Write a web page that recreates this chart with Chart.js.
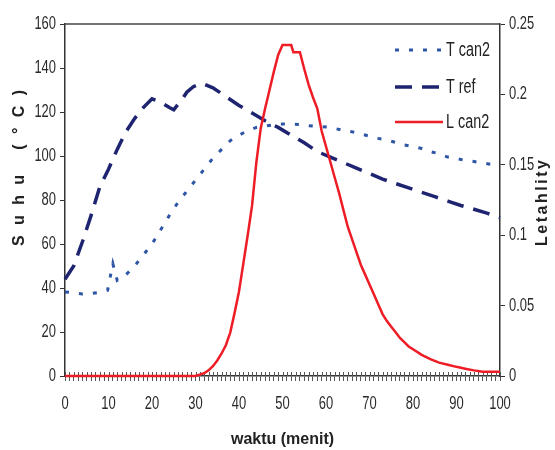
<!DOCTYPE html>
<html>
<head>
  <title>Suhu dan Letalitas</title>
  <script src="https://cdn.jsdelivr.net/npm/chart.js@4.4.1/dist/chart.umd.min.js"></script>
  <style>
body {
  margin: 0;
  background: #ffffff;
}
  </style>
</head>
<body>
<canvas id="chart" width="555" height="450"></canvas>
<script>
// values (time in minutes)
var tCan2Time = [0, 2, 4, 6, 8, 9.8, 11, 12, 14, 16, 18, 20, 22, 24, 26, 28, 30, 32, 34, 36, 38, 40, 42, 44, 46, 48, 50, 52, 54, 56, 58, 60, 62, 64, 66, 68, 70, 72, 74, 76, 78, 80, 82, 84, 86, 88, 90, 92, 94, 96, 98, 100];
var tCan2Values = [38.2, 37.8, 37.3, 37.5, 38, 39, 51, 43.5, 46, 50, 55, 60, 66.5, 73, 79, 84, 89, 94, 99, 103, 107, 109.5, 111.5, 113, 113.6, 114.2, 114.5, 114.5, 114.3, 113.8, 113.4, 113.2, 112.5, 111.7, 111, 110, 109, 108, 107.2, 106.2, 105, 104.3, 103.4, 102, 101, 99.5, 98.8, 98, 97.5, 96.8, 96.2, 96];

var tRefTime = [0, 2, 4, 6, 8, 10, 12, 14, 16, 18, 20, 22, 24, 25, 27, 28, 29.5, 31.5, 34, 37, 40, 43, 46, 49, 52, 55, 58, 61, 64, 67, 70, 73, 76, 79, 82, 85, 88, 91, 94, 97, 100];
var tRefValues = [44, 50, 61, 73, 86, 94, 103, 111, 117, 122, 126, 124.5, 122, 121, 126, 129, 131.5, 133, 131, 127, 123, 119.5, 116, 113, 109.5, 106, 102, 99.5, 97, 94.5, 92, 89.5, 87.5, 85.5, 83.5, 81.5, 79.5, 77.5, 75.8, 74, 72];

var lCan2Time = [0, 30, 31, 32, 33, 34, 35, 36, 37, 38, 39, 40, 41, 42, 43, 44, 45, 46, 47, 48, 49, 50, 51, 52, 52.5, 54, 55, 56, 57, 58, 59, 60, 61, 62, 63, 64, 65, 66, 67, 68, 69, 70, 71, 72, 73, 74, 75, 76, 77, 78, 79, 80, 82, 84, 86, 88, 90, 92, 94, 96, 98, 100];
var lCan2Values = [0, 0, 0.001, 0.002, 0.004, 0.007, 0.011, 0.016, 0.022, 0.031, 0.045, 0.06, 0.08, 0.1, 0.121, 0.152, 0.176, 0.19, 0.203, 0.216, 0.228, 0.235, 0.235, 0.235, 0.23, 0.23, 0.218, 0.207, 0.198, 0.19, 0.174, 0.163, 0.152, 0.141, 0.13, 0.118, 0.106, 0.097, 0.088, 0.079, 0.072, 0.065, 0.058, 0.051, 0.044, 0.039, 0.035, 0.031, 0.027, 0.024, 0.021, 0.019, 0.015, 0.012, 0.0095, 0.008, 0.0065, 0.0052, 0.004, 0.003, 0.003, 0.003];

var seriesNames = ['T can2', 'T ref', 'L can2'];
var xTitle = 'waktu (menit)';
var yTitle = 'Suhu (\u00B0C)';
var y1Title = 'Letahlity';

var plain = "'Liberation Sans', Arial, sans-serif";
var squeeze = 0.72; // the original labels are set in a very condensed face

function toPoints(xs, ys) {
  return xs.map(function(x, i) { return { x: x, y: ys[i] }; });
}

function spacedText(ctx, text, x, y, targetWidth) {
  ctx.letterSpacing = '0px';
  var w = ctx.measureText(text).width;
  var gap = Math.max(0, (targetWidth - w) / (text.length - 1));
  ctx.letterSpacing = gap + 'px';
  ctx.fillText(text, x + gap / 2, y);
  ctx.letterSpacing = '0px';
}

function narrowText(ctx, text, x, y) {
  ctx.save();
  ctx.translate(x, y);
  ctx.scale(squeeze, 1);
  ctx.fillText(text, 0, 0);
  ctx.restore();
}

// tick labels, spaced axis titles, top frame line and the inset legend
var decor = {
  id: 'decor',
  beforeDatasetsDraw: function(chart) {
    // minute ticks cross the time axis, under the lines
    var ctx = chart.ctx;
    var area = chart.chartArea;
    var sx = chart.scales.x;
    ctx.save();
    ctx.strokeStyle = '#555';
    ctx.lineWidth = 1;
    ctx.beginPath();
    sx.ticks.forEach(function(t) {
      var px = Math.round(sx.getPixelForValue(t.value)) + 0.5;
      ctx.moveTo(px, area.bottom);
      ctx.lineTo(px, area.bottom - 4);
    });
    ctx.stroke();
    ctx.restore();
  },
  afterDraw: function(chart) {
    var ctx = chart.ctx;
    var area = chart.chartArea;
    var sx = chart.scales.x, sy = chart.scales.y, sy1 = chart.scales.y1;
    ctx.save();

    ctx.strokeStyle = '#444';
    ctx.lineWidth = 1.5;
    ctx.beginPath();
    ctx.moveTo(area.left, area.top);
    ctx.lineTo(area.right, area.top);
    ctx.stroke();

    ctx.fillStyle = '#2a2a2a';
    ctx.font = '18px ' + plain;
    ctx.textBaseline = 'middle';
    ctx.textAlign = 'center';
    sx.ticks.forEach(function(t) {
      if (t.label !== '') narrowText(ctx, t.label, sx.getPixelForValue(t.value), 404);
    });
    ctx.textAlign = 'right';
    sy.ticks.forEach(function(t) {
      narrowText(ctx, t.label, area.left - 9, sy.getPixelForValue(t.value));
    });
    ctx.textAlign = 'left';
    sy1.ticks.forEach(function(t) {
      narrowText(ctx, t.label, area.right + 9, sy1.getPixelForValue(t.value));
    });

    ctx.fillStyle = '#222';
    ctx.textAlign = 'center';
    ctx.font = 'bold 16px ' + plain;
    ctx.fillText(xTitle, (area.left + area.right) / 2, 440);

    ctx.save();
    ctx.translate(20, 168);
    ctx.rotate(-Math.PI / 2);
    spacedText(ctx, yTitle, 0, 0, 156);
    ctx.restore();

    ctx.save();
    ctx.translate(543, 203);
    ctx.rotate(-Math.PI / 2);
    spacedText(ctx, y1Title, 0, 0, 86);
    ctx.restore();

    var rows = [50, 87, 122];
    var order = [1, 2, 0];
    ctx.font = '20px ' + plain;
    ctx.textAlign = 'left';
    for (var i = 0; i < 3; i++) {
      var ds = chart.data.datasets[order[i]];
      ctx.strokeStyle = ds.borderColor;
      ctx.lineWidth = ds.borderWidth;
      ctx.setLineDash(ds.borderDash || []);
      ctx.beginPath();
      ctx.moveTo(395, rows[i]);
      ctx.lineTo(443, rows[i]);
      ctx.stroke();
      ctx.setLineDash([]);
      ctx.fillStyle = '#222';
      narrowText(ctx, ds.label, 446, rows[i]);
    }
    ctx.restore();
  }
};

var axisColor = '#333';

var chart = new Chart(document.getElementById('chart'), {
  type: 'line',
  data: {
    datasets: [{
      label: seriesNames[2],
      data: toPoints(lCan2Time, lCan2Values),
      yAxisID: 'y1',
      borderColor: '#ee1c25',
      borderWidth: 2.5,
      clip: 4,
      order: 0
    }, {
      label: seriesNames[0],
      data: toPoints(tCan2Time, tCan2Values),
      yAxisID: 'y',
      borderColor: '#2f56a6',
      borderWidth: 3,
      borderDash: [4, 10],
      clip: 4,
      order: 1
    }, {
      label: seriesNames[1],
      data: toPoints(tRefTime, tRefValues),
      yAxisID: 'y',
      borderColor: '#1f2470',
      borderWidth: 3.5,
      borderDash: [17, 10],
      clip: 4,
      order: 2
    }]
  },
  options: {
    responsive: false,
    animation: false,
    layout: { padding: { top: 24, left: 0, right: 0, bottom: 0 } },
    elements: {
      point: { radius: 0 },
      line: { tension: 0, borderCapStyle: 'butt', fill: false }
    },
    plugins: {
      legend: { display: false },
      tooltip: { enabled: false }
    },
    scales: {
      x: {
        type: 'linear',
        min: 0,
        max: 100,
        afterFit: function(s) { s.height = 74; },
        ticks: {
          display: false,
          stepSize: 1,
          autoSkip: false,
          callback: function(v) { return v % 10 === 0 ? String(v) : ''; }
        },
        grid: { drawOnChartArea: false, tickLength: 5, color: '#555', lineWidth: 1 },
        border: { color: axisColor, width: 1.5 }
      },
      y: {
        position: 'left',
        min: 0,
        max: 160,
        afterFit: function(s) { s.width = 65; },
        ticks: { display: false, stepSize: 20 },
        grid: { drawOnChartArea: false, tickLength: 5, color: axisColor },
        border: { color: axisColor, width: 1.5 }
      },
      y1: {
        position: 'right',
        min: 0,
        max: 0.25,
        afterFit: function(s) { s.width = 55; },
        ticks: {
          display: false,
          stepSize: 0.05,
          callback: function(v) { return String(parseFloat(v.toFixed(2))); }
        },
        grid: { drawOnChartArea: false, tickLength: 5, color: axisColor },
        border: { color: axisColor, width: 1.5 }
      }
    }
  },
  plugins: [decor]
});
</script>
</body>
</html>
